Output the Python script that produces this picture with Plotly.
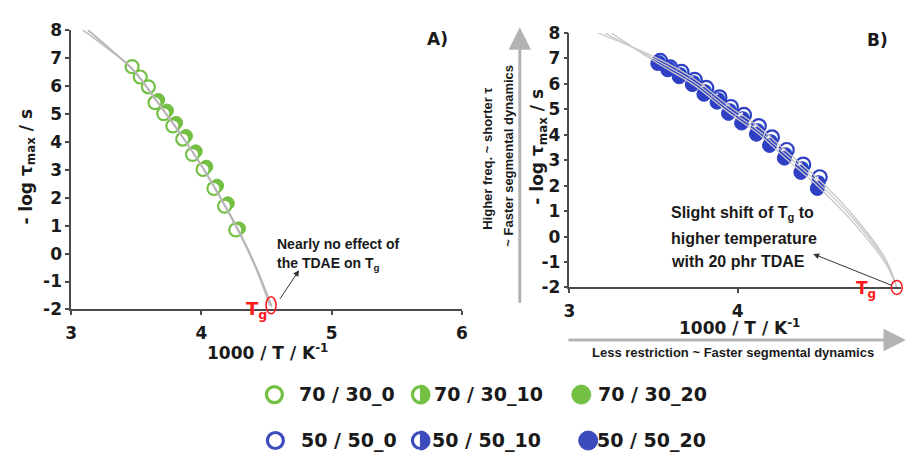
import plotly.graph_objects as go

W, H = 907, 462

# ---------------- data: panel A (70/30 blends) ----------------
a_0_x = [3.468, 3.531, 3.593, 3.644, 3.711, 3.781, 3.857, 3.932, 4.013, 4.096, 4.178, 4.264]
a_0_y = [6.69, 6.32, 5.97, 5.40, 5.01, 4.57, 4.10, 3.55, 3.01, 2.33, 1.70, 0.85]
a_10_x = [3.657, 3.724, 3.794, 3.870, 3.945, 4.026, 4.109, 4.191, 4.277]
a_10_y = [5.45, 5.07, 4.63, 4.16, 3.61, 3.06, 2.38, 1.75, 0.88]
a_20_x = [3.669, 3.736, 3.806, 3.882, 3.957, 4.038, 4.121, 4.203, 4.289]
a_20_y = [5.50, 5.12, 4.68, 4.21, 3.66, 3.11, 2.43, 1.80, 0.90]

# VFT fit curves, panel A
a_fit1_x = [3.09, 3.25, 3.47, 3.65, 3.85, 4.00, 4.15, 4.29, 4.42, 4.525]
a_fit1_y = [8.0, 7.45, 6.62, 5.50, 4.20, 3.15, 1.95, 0.75, -0.55, -1.85]
a_fit2_x = [3.13, 3.28, 3.48, 3.66, 3.86, 4.01, 4.16, 4.30, 4.43, 4.54]
a_fit2_y = [8.0, 7.40, 6.55, 5.45, 4.15, 3.08, 1.90, 0.70, -0.60, -1.90]
a_tg = (4.535, -1.85)

# ---------------- data: panel B (50/50 blends) ----------------
b_0_x = [3.539, 3.598, 3.666, 3.744, 3.813, 3.891, 3.959, 4.037, 4.125, 4.203, 4.291, 4.389, 4.487]
b_0_y = [6.90, 6.65, 6.47, 6.16, 5.84, 5.47, 5.09, 4.78, 4.34, 3.90, 3.40, 2.83, 2.33]
b_10_x = [3.531, 3.590, 3.658, 3.736, 3.805, 3.883, 3.951, 4.029, 4.117, 4.195, 4.283, 4.381, 4.479]
b_10_y = [6.85, 6.60, 6.37, 6.06, 5.71, 5.37, 4.96, 4.62, 4.18, 3.74, 3.24, 2.67, 2.11]
b_20_x = [3.525, 3.584, 3.652, 3.730, 3.799, 3.877, 3.945, 4.023, 4.111, 4.189, 4.277, 4.375, 4.473]
b_20_y = [6.80, 6.55, 6.28, 5.97, 5.59, 5.28, 4.84, 4.46, 4.02, 3.58, 3.08, 2.52, 1.89]

b_fit1_x = [3.17, 3.53, 3.74, 3.95, 4.12, 4.28, 4.48, 4.70, 4.88, 4.945]
b_fit1_y = [8.0, 6.98, 6.20, 5.12, 4.33, 3.40, 2.25, 0.72, -0.90, -2.0]
b_fit2_x = [3.21, 3.53, 3.74, 3.95, 4.12, 4.28, 4.48, 4.70, 4.88, 4.945]
b_fit2_y = [8.0, 6.88, 6.07, 4.98, 4.18, 3.25, 2.10, 0.60, -1.00, -2.0]
b_fit3_x = [3.25, 3.53, 3.74, 3.95, 4.12, 4.28, 4.48, 4.70, 4.88, 4.945]
b_fit3_y = [8.0, 6.78, 5.95, 4.85, 4.05, 3.10, 1.95, 0.45, -1.08, -2.0]
b_tg = (4.945, -2.0)

y_ticks = [-2, -1, 0, 1, 2, 3, 4, 5, 6, 7, 8]
y_tick_text = ["-2", "-1", "0", "1", "2", "3", "4", "5", "6", "7", "8"]
a_x_ticks = [3, 4, 5, 6]
b_x_ticks = [3, 4]

legend_rows = [
    ["70 / 30_0", "70 / 30_10", "70 / 30_20"],
    ["50 / 50_0", "50 / 50_10", "50 / 50_20"],
]

GREEN = "#74c044"
BLUE = "#2f3fc4"
BLUE_LEG = "#3d4cbc"
RED = "#ff1a1a"
AXIS = "#4a4a4a"
TXT = "#1a1a1a"
BOLD = "DejaVu Sans"
ARIAL = "Liberation Sans"

# subplot geometry (paper fractions)
AX_DOM = [66 / W, 462 / W]
AY_DOM = [1 - 313 / H, 1 - 21 / H]
BX_DOM = [571 / W, 1.0]
BY_DOM = [1 - 290 / H, 1 - 24 / H]
AX_RNG, AY_RNG = [3, 6], [-2, 8]
BX_RNG, BY_RNG = [3, 4.97], [-2, 8]


def to_paper(dom, rng, v):
    return dom[0] + (v - rng[0]) / (rng[1] - rng[0]) * (dom[1] - dom[0])


def px(x):
    return x / W


def py(y):
    return 1 - y / H


fig = go.Figure()


def ring(x, y, color, xa, ya, size):
    return go.Scatter(x=x, y=y, mode="markers", xaxis=xa, yaxis=ya, showlegend=False,
                      marker=dict(symbol="circle", size=size, color="white",
                                  line=dict(color=color, width=2.2)), cliponaxis=False)


def disc(x, y, color, xa, ya, size):
    return go.Scatter(x=x, y=y, mode="markers", xaxis=xa, yaxis=ya, showlegend=False,
                      marker=dict(symbol="circle", size=size, color=color,
                                  line=dict(color=color, width=1)), cliponaxis=False)


def half(x, y, color, xa, ya, fsize):
    return go.Scatter(x=x, y=y, mode="text", xaxis=xa, yaxis=ya, showlegend=False,
                      text=["\u25D1"] * len(x), textposition="middle center",
                      textfont=dict(family=BOLD, size=fsize, color=color), cliponaxis=False)


def curve(x, y, xa, ya, width, color):
    return go.Scatter(x=x, y=y, mode="lines", xaxis=xa, yaxis=ya, showlegend=False,
                      line=dict(color=color, width=width, shape="spline", smoothing=1.0),
                      cliponaxis=False)


# panel A
fig.add_trace(disc(a_20_x, a_20_y, GREEN, "x", "y", 13))
fig.add_trace(half(a_10_x, a_10_y, GREEN, "x", "y", 17))
fig.add_trace(ring(a_0_x, a_0_y, GREEN, "x", "y", 13))
fig.add_trace(curve(a_fit1_x, a_fit1_y, "x", "y", 1.8, "#c4c4c4"))
fig.add_trace(curve(a_fit2_x, a_fit2_y, "x", "y", 1.8, "#b4b4b4"))

# panel B
fig.add_trace(ring(b_0_x, b_0_y, BLUE, "x2", "y2", 14))
fig.add_trace(half(b_10_x, b_10_y, BLUE, "x2", "y2", 18))
fig.add_trace(disc(b_20_x, b_20_y, BLUE, "x2", "y2", 14))
fig.add_trace(curve(b_fit1_x, b_fit1_y, "x2", "y2", 1.3, "#c8c8c8"))
fig.add_trace(curve(b_fit2_x, b_fit2_y, "x2", "y2", 1.3, "#c8c8c8"))
fig.add_trace(curve(b_fit3_x, b_fit3_y, "x2", "y2", 1.3, "#c8c8c8"))

tickfont = dict(family=BOLD, size=17, color=TXT, weight="bold")
axis_common = dict(showline=True, linecolor=AXIS, linewidth=1.5, ticks="outside",
                   ticklen=4, tickwidth=1.5, tickcolor=AXIS, showgrid=False,
                   zeroline=False, tickfont=tickfont, fixedrange=True)


def bold_ticks(vals):
    return [f"<b>{v}</b>" for v in vals]


fig.update_layout(
    width=W, height=H, margin=dict(l=0, r=0, t=0, b=0),
    paper_bgcolor="white", plot_bgcolor="white", showlegend=False,
    xaxis=dict(domain=AX_DOM, range=AX_RNG, tickvals=a_x_ticks,
               ticktext=bold_ticks(a_x_ticks), ticklabelstandoff=3, anchor="y", **axis_common),
    yaxis=dict(domain=AY_DOM, range=AY_RNG, tickvals=y_ticks,
               ticktext=bold_ticks(y_tick_text), ticklabelstandoff=0, anchor="x", **axis_common),
    xaxis2=dict(domain=BX_DOM, range=BX_RNG, tickvals=b_x_ticks,
                ticktext=bold_ticks(b_x_ticks), ticklabelstandoff=3, anchor="y2", **axis_common),
    yaxis2=dict(domain=BY_DOM, range=BY_RNG, tickvals=y_ticks,
                ticktext=bold_ticks(y_tick_text), ticklabelstandoff=0, anchor="x2", **axis_common),
)

ann = []


def text(x, y, s, size=16, family=BOLD, color=TXT, angle=0, xanchor="center",
         yanchor="middle", align="center"):
    ann.append(dict(x=px(x), y=py(y), xref="paper", yref="paper", text=s, showarrow=False,
                    font=dict(family=family, size=size, color=color, weight="bold"),
                    textangle=angle, xanchor=xanchor, yanchor=yanchor, align=align))


# panel labels and axis titles
text(437, 30, "A)", 17)
text(883, 31, "B)", 17)
text(22, 164, "- log \u03c4<sub>max</sub> / s", 17, angle=-90)
text(265, 357, "1000 / T / K<sup>-1</sup>", 17)
text(540, 143, "- log \u03c4<sub>max</sub> / s", 17, angle=-90)
text(743, 331, "1000 / T / K<sup>-1</sup>", 17)

# direction hints for panel B
text(488, 156, "Higher freq. ~ shorter \u03c4", 13, ARIAL, angle=-90)
text(509, 152, "~ Faster segmental dynamics", 13, ARIAL, angle=-90)
text(737, 358, "Less restriction ~ Faster segmental dynamics", 13, ARIAL)

# comments on Tg
text(273, 245, "Nearly no effect of", 14, ARIAL, xanchor="left", align="left")
text(273, 265, "the TDAE on T<sub>g</sub>", 14, ARIAL, xanchor="left", align="left")
text(672, 213, "Slight shift of T<sub>g</sub> to", 16, ARIAL, xanchor="left", align="left")
text(672, 239, "higher temperature", 16, ARIAL, xanchor="left", align="left")
text(672, 263, "with 20 phr TDAE", 16, ARIAL, xanchor="left", align="left")
text(241, 314, "T<sub>g</sub>", 18, BOLD, RED, xanchor="left")
text(859, 292, "T<sub>g</sub>", 17, BOLD, RED, xanchor="left")


def arrow(hx, hy, tx, ty, color, width, head=2, size=1.0):
    ann.append(dict(x=px(hx), y=py(hy), xref="paper", yref="paper", ax=tx - hx, ay=ty - hy,
                    axref="pixel", ayref="pixel", text="", showarrow=True, arrowhead=head,
                    arrowsize=size, arrowwidth=width, arrowcolor=color, standoff=0,
                    startstandoff=0))


arrow(520.7, 18, 520.7, 295, "#b3b3b3", 3, 2, 1.5)
arrow(912, 345, 573, 345, "#b3b3b3", 3, 2, 1.5)
arrow(297, 272, 277, 302, "#333333", 1, 2, 1.2)
arrow(818, 255, 898, 287, "#333333", 1, 2, 1.2)

# legend entries
leg_icon_x = [[272, 420, 583], [273, 420, 590]]
leg_text_x = [[295, 432, 598], [297, 430, 597]]
leg_y = [402, 450]
leg_color = [GREEN, BLUE_LEG]

shapes = []
R = 9.5


def icon(kind, cx, cy, color):
    base = dict(xref="paper", yref="paper", xsizemode="pixel", ysizemode="pixel",
                xanchor=px(cx), yanchor=py(cy))
    if kind == 2:
        shapes.append(dict(type="circle", x0=-R, x1=R, y0=-R, y1=R, fillcolor=color,
                           line=dict(color=color, width=1), **base))
    else:
        shapes.append(dict(type="circle", x0=-R + 1.5, x1=R - 1.5, y0=-R + 1.5, y1=R - 1.5,
                           fillcolor="white", line=dict(color=color, width=3.2), **base))
    if kind == 1:
        k = 0.5523 * R
        path = (f"M 0,{R} C {k},{R} {R},{k} {R},0 C {R},{-k} {k},{-R} 0,{-R} "
                f"L 0,{R} Z")
        shapes.append(dict(type="path", path=path, fillcolor=color,
                           line=dict(color=color, width=1), **base))


for r in range(2):
    for c in range(3):
        icon(c, leg_icon_x[r][c], leg_y[r], leg_color[r])
        text(leg_text_x[r][c], leg_y[r], legend_rows[r][c], 19, xanchor="left")

# Tg markers (ellipses) placed through the axis mapping
for (tx, ty), xd, yd, xr, yr, hw, hh in [
    (a_tg, AX_DOM, AY_DOM, AX_RNG, AY_RNG, 5, 8.5),
    (b_tg, BX_DOM, BY_DOM, BX_RNG, BY_RNG, 5.5, 7),
]:
    shapes.append(dict(type="circle", xref="paper", yref="paper", xsizemode="pixel",
                       ysizemode="pixel", xanchor=to_paper(xd, xr, tx),
                       yanchor=to_paper(yd, yr, ty), x0=-hw, x1=hw, y0=-hh, y1=hh,
                       line=dict(color=RED, width=1.5), fillcolor="rgba(0,0,0,0)"))

fig.update_layout(annotations=ann, shapes=shapes)

# page without default body margin so the figure fills the window exactly
fig.write_html(
    "out.html",
    post_script="document.body.style.margin='0';document.body.style.overflow='hidden';",
)
